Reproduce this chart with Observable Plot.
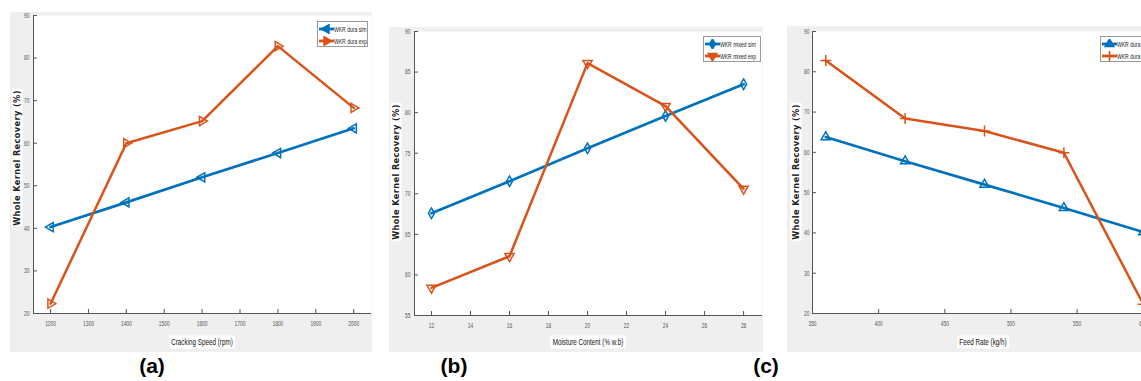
<!DOCTYPE html>
<html><head><meta charset="utf-8">
<script src="https://cdn.jsdelivr.net/npm/d3@7"></script>
<script src="https://cdn.jsdelivr.net/npm/@observablehq/plot@0.6"></script>
<style>
html,body{margin:0;padding:0;background:#fff;}
#page{position:relative;width:1141px;height:381px;overflow:hidden;font-family:"Liberation Sans",Arial,sans-serif;}
.panel{position:absolute;background:#efefef;}
.panel svg{position:absolute;left:0;top:0;max-width:none!important;}
.xlab{position:absolute;background:#fff;font-family:"Liberation Sans",Arial,sans-serif;font-size:9px;color:#111;padding:1px 3px;transform:translate(-50%,-50%) scaleX(0.7);white-space:nowrap;line-height:11px;}
.ylab{position:absolute;background:#fff;font-family:"DejaVu Sans",sans-serif;font-weight:bold;font-size:8.2px;letter-spacing:.4px;color:#222;padding:1px 1px;transform:translate(-50%,-50%) rotate(-90deg);white-space:nowrap;line-height:9px;}
.legend{position:absolute;background:#fff;border:1px solid #9a9a9a;box-sizing:border-box;}
.legend .row{position:absolute;left:1px;height:10px;display:flex;align-items:center;white-space:nowrap;font-family:"Liberation Sans",Arial,sans-serif;font-size:7px;color:#222;}
.legend .row span{display:inline-block;transform:scaleX(0.72);transform-origin:left center;}
.legend svg{display:block;margin-right:0px;}
.sub{position:absolute;font-weight:bold;font-size:21px;line-height:21px;transform:translateX(-50%);color:#000;}
</style>
</head><body>
<div id="page"></div>
<script>
// ---- data ----
const speedRpm = [1200, 1400, 1600, 1800, 2000];
const duraSimA = [40.3, 46.1, 52.0, 57.7, 63.5];
const duraExpA = [22.3, 60.0, 65.2, 82.8, 68.3];
const speedTicks = [1200, 1300, 1400, 1500, 1600, 1700, 1800, 1900, 2000];
const recoveryTicksA = [20, 30, 40, 50, 60, 70, 80, 90];

const moisture = [12, 16, 20, 24, 28];
const mixedSim = [67.6, 71.55, 75.6, 79.6, 83.5];
const mixedExp = [58.4, 62.3, 86.1, 80.8, 70.6];
const moistureTicks = [12, 14, 16, 18, 20, 22, 24, 26, 28];
const recoveryTicksB = [55, 60, 65, 70, 75, 80, 85, 90];

const feedRate = [360, 420, 480, 540, 600];
const duraSimC = [63.8, 57.8, 52.0, 46.2, 40.2];
const duraExpC = [82.8, 68.4, 65.3, 59.9, 22.3];
const feedTicks = [350, 400, 450, 500, 550, 600];
const recoveryTicksC = [20, 30, 40, 50, 60, 70, 80, 90];

const yTitle = "Whole Kernel Recovery (%)";
const xTitles = ["Cracking Speed (rpm)", "Moisture Content (% w.b)", "Feed Rate (kg/h)"];
const legendA = ["WKR dura sim", "WKR dura exp"];
const legendB = ["WKR mixed sim", "WKR mixed exp"];
const legendC = ["WKR dura sim", "WKR dura exp"];
const subLabels = ["(a)", "(b)", "(c)"];

const BLUE = "#0072BD", ORANGE = "#D95319", AXIS = "#555";
const page = document.getElementById("page");

function drawPanel(cfg) {
  const simData = cfg.xs.map((x, i) => ({x, y: cfg.sim[i]}));
  const expData = cfg.xs.map((x, i) => ({x, y: cfg.exp[i]}));
  const fw = cfg.width - cfg.ml - cfg.mr;
  const fh = cfg.height - cfg.mt - cfg.mb;
  const svg = Plot.plot({
    width: cfg.width, height: cfg.height,
    marginLeft: cfg.ml, marginRight: cfg.mr, marginTop: cfg.mt, marginBottom: cfg.mb,
    style: {background: "transparent", fontFamily: '"Liberation Sans",Arial,sans-serif', fontSize: "7.4px", color: "#555", overflow: "visible"},
    x: {domain: cfg.xDomain},
    y: {domain: cfg.yDomain},
    marks: [
      Plot.frame({fill: "white", stroke: null}),
      Plot.tickX(cfg.xTicks, {x: d => d, insetTop: fh - 4, stroke: AXIS}),
      Plot.tickY(cfg.yTicks, {y: d => d, insetRight: fw - 4, stroke: AXIS}),
      Plot.ruleY([cfg.yDomain[0]], {stroke: AXIS}),
      Plot.ruleX([cfg.xDomain[0]], {stroke: AXIS}),
      Plot.axisX({ticks: cfg.xTicks, tickSize: 0, tickPadding: 7.3, label: null, tickFormat: d => String(d)}),
      Plot.axisY({ticks: cfg.yTicks, tickSize: 0, tickPadding: cfg.yPad, label: null, tickFormat: d => String(d)}),
      Plot.line(simData, {x: "x", y: "y", stroke: BLUE, strokeWidth: 2.7}),
      Plot.dot(simData, {x: "x", y: "y", symbol: cfg.simSymbol, rotate: cfg.simRotate, r: cfg.simR, stroke: BLUE, fill: "none", strokeWidth: 1.5}),
      Plot.line(expData, {x: "x", y: "y", stroke: ORANGE, strokeWidth: 2.5}),
      Plot.dot(expData, {x: "x", y: "y", symbol: cfg.expSymbol, rotate: cfg.expRotate, r: cfg.expR, stroke: ORANGE, fill: "none", strokeWidth: 1.5})
    ]
  });
  // condensed tick labels (MATLAB-like narrow font)
  svg.querySelectorAll('g[aria-label$="tick label"] text').forEach(t => {
    const tr = t.getAttribute("transform") || "";
    t.setAttribute("transform", tr + " scale(0.66,1)");
  });
  const div = document.createElement("div");
  div.className = "panel";
  Object.assign(div.style, {left: cfg.left + "px", top: cfg.top + "px", width: cfg.width + "px", height: cfg.height + "px"});
  div.appendChild(svg);
  page.appendChild(div);

  const xl = document.createElement("div");
  xl.className = "xlab"; xl.textContent = cfg.xTitle;
  xl.style.left = cfg.xLab[0] + "px"; xl.style.top = cfg.xLab[1] + "px";
  page.appendChild(xl);

  const yl = document.createElement("div");
  yl.className = "ylab"; yl.textContent = yTitle;
  yl.style.left = cfg.yLab[0] + "px"; yl.style.top = cfg.yLab[1] + "px";
  page.appendChild(yl);

  const symMap = {triangle: d3.symbolTriangle, diamond: d3.symbolDiamond, plus: d3.symbolPlus};
  const lg = document.createElement("div");
  lg.className = "legend";
  Object.assign(lg.style, {left: cfg.legend[0] + "px", top: cfg.legend[1] + "px", width: cfg.legend[2] + "px", height: "26px"});
  const entries = [
    {name: cfg.legendNames[0], color: BLUE, sym: cfg.simSymbol, rot: cfg.simRotate, r: cfg.simR},
    {name: cfg.legendNames[1], color: ORANGE, sym: cfg.expSymbol, rot: cfg.expRotate, r: cfg.expR}
  ];
  entries.forEach((e, i) => {
    const row = document.createElement("div");
    row.className = "row";
    row.style.top = (2 + i * 12) + "px";
    const path = d3.symbol(symMap[e.sym], Math.PI * e.r * e.r * 0.85)();
    row.innerHTML = `<svg width="15" height="10"><line x1="0" x2="15" y1="5" y2="5" stroke="${e.color}" stroke-width="2.8"/><path d="${path}" transform="translate(7.5,5) rotate(${e.rot})" fill="${e.color}" stroke="${e.color}" stroke-width="1.6"/></svg><span>${e.name}</span>`;
    lg.appendChild(row);
  });
  page.appendChild(lg);

  const sb = document.createElement("div");
  sb.className = "sub"; sb.textContent = cfg.sub;
  sb.style.left = cfg.subX + "px"; sb.style.top = "355px";
  page.appendChild(sb);
}

drawPanel({
  left: 10, top: 12, width: 362, height: 340, ml: 23, mr: 1, mt: 3, mb: 39, yPad: 4,
  xDomain: [1155, 2047], yDomain: [20, 90], xTicks: speedTicks, yTicks: recoveryTicksA,
  xs: speedRpm, sim: duraSimA, exp: duraExpA,
  simSymbol: "triangle", simRotate: -90, simR: 3.4, expSymbol: "triangle", expRotate: 90, expR: 3.4,
  xTitle: xTitles[0], xLab: [202, 342], yLab: [17, 158], legend: [317, 21, 51], legendNames: legendA,
  sub: subLabels[0], subX: 152
});
drawPanel({
  left: 389, top: 27, width: 374, height: 325, ml: 25, mr: 1, mt: 4, mb: 37, yPad: 4,
  xDomain: [11.13, 28.97], yDomain: [55, 90], xTicks: moistureTicks, yTicks: recoveryTicksB,
  xs: moisture, sim: mixedSim, exp: mixedExp,
  simSymbol: "diamond", simRotate: 0, simR: 3.2, expSymbol: "triangle", expRotate: 180, expR: 3.4,
  xTitle: xTitles[1], xLab: [588, 342], yLab: [396, 172], legend: [703, 36, 58], legendNames: legendB,
  sub: subLabels[1], subX: 454
});
drawPanel({
  left: 787, top: 26, width: 370, height: 326, ml: 25, mr: 1, mt: 5, mb: 39, yPad: 3,
  xDomain: [350, 610], yDomain: [20, 90], xTicks: feedTicks, yTicks: recoveryTicksC,
  xs: feedRate, sim: duraSimC, exp: duraExpC,
  simSymbol: "triangle", simRotate: 0, simR: 3.4, expSymbol: "plus", expRotate: 0, expR: 3.6,
  xTitle: xTitles[2], xLab: [983, 342], yLab: [796, 172], legend: [1100, 36, 56], legendNames: legendC,
  sub: subLabels[2], subX: 766
});
</script>
</body></html>
